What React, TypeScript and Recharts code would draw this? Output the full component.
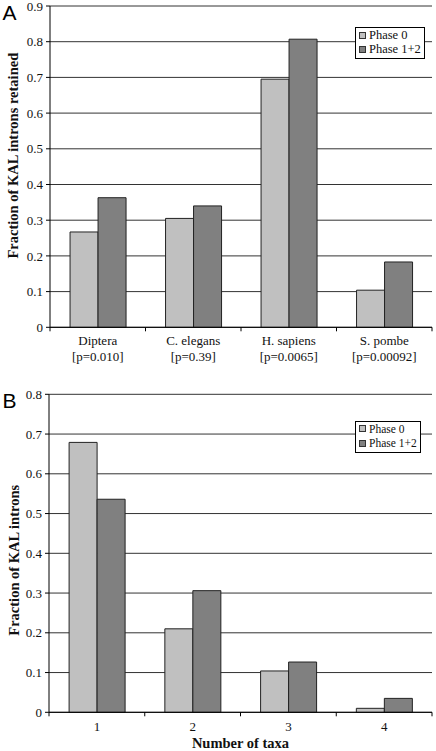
import React from 'react';
import { BarChart, Bar, XAxis, YAxis, CartesianGrid, Legend, Label } from 'recharts';

const categoriesA = ['Diptera', 'C. elegans', 'H. sapiens', 'S. pombe'];
const pValuesA = ['[p=0.010]', '[p=0.39]', '[p=0.0065]', '[p=0.00092]'];
const phase0A = [0.267, 0.305, 0.695, 0.104];
const phase12A = [0.363, 0.34, 0.807, 0.183];
const yTicksA = [0, 0.1, 0.2, 0.3, 0.4, 0.5, 0.6, 0.7, 0.8, 0.9];

const taxaB = ['1', '2', '3', '4'];
const phase0B = [0.679, 0.21, 0.104, 0.01];
const phase12B = [0.536, 0.306, 0.1265, 0.035];
const yTicksB = [0, 0.1, 0.2, 0.3, 0.4, 0.5, 0.6, 0.7, 0.8];

const seriesNames = ['Phase 0', 'Phase 1+2'];
const seriesColors = ['#c0c0c0', '#808080'];

const dataA = categoriesA.map((c, i) => ({ name: c, p0: phase0A[i], p12: phase12A[i] }));
const dataB = taxaB.map((c, i) => ({ name: c, p0: phase0B[i], p12: phase12B[i] }));

const SERIF = '"Liberation Serif", "Times New Roman", serif';
const W = 436;
const H_A = 375;
const H_B = 376;
const M_RIGHT = 4;
const YW_A = 50;
const YW_B = 49;
const BAND_A = (W - YW_A - M_RIGHT) / 4;
const BAND_B = (W - YW_B - M_RIGHT) / 4;

const fmt = (v: number) => (v === 0 ? '0' : String(v));

const LegendBox = (props: any) => {
  const payload = props.payload || [];
  return (
    <div
      style={{
        border: '1px solid #000',
        background: '#fff',
        padding: '0px 3px 1px 3px',
        fontFamily: SERIF,
        fontSize: props.fs,
        lineHeight: '14.4px',
        color: '#111',
        whiteSpace: 'nowrap',
        boxSizing: 'border-box',
      }}
    >
      {payload.map((p: any, i: number) => (
        <div key={i} style={{ display: 'flex', alignItems: 'center' }}>
          <span
            style={{
              display: 'inline-block',
              width: 5,
              height: 5,
              border: '1px solid #333',
              background: p.color,
              marginRight: 3,
            }}
          />
          <span>{p.value}</span>
        </div>
      ))}
    </div>
  );
};

const makeXTick = (band: number, second: string[] | null, firstOffset: number) => (props: any) => {
  const { x, y, payload, index } = props;
  return (
    <g>
      <line x1={x - band / 2} x2={x - band / 2} y1={y} y2={y + 4} stroke="#000" />
      {index === 3 && <line x1={x + band / 2} x2={x + band / 2} y1={y} y2={y + 4} stroke="#000" />}
      <text x={x} y={y + firstOffset} textAnchor="middle" fontFamily={SERIF} fontSize={13} fill="#111">
        {payload.value}
      </text>
      {second && (
        <text x={x} y={y + firstOffset + 16} textAnchor="middle" fontFamily={SERIF} fontSize={13} fill="#111">
          {second[index]}
        </text>
      )}
    </g>
  );
};

const yLabel = (text: string, bx: number, dyCenter: number) => (props: any) => {
  const vb = props.viewBox || {};
  const cy = vb.y + vb.height / 2 + dyCenter;
  return (
    <text
      x={bx}
      y={cy}
      transform={`rotate(-90, ${bx}, ${cy})`}
      textAnchor="middle"
      fontFamily={SERIF}
      fontWeight="bold"
      fontSize={14.5}
      fill="#111"
    >
      {text}
    </text>
  );
};

const xLabelB = (props: any) => {
  const vb = props.viewBox || {};
  return (
    <text
      x={vb.x + vb.width / 2}
      y={vb.y + 35.7}
      textAnchor="middle"
      fontFamily={SERIF}
      fontWeight="bold"
      fontSize={14.5}
      fill="#111"
    >
      Number of taxa
    </text>
  );
};

export default function App() {
  return (
    <div style={{ position: 'absolute', left: 0, top: 0, width: W, height: 751, background: '#fff' }}>
      <div style={{ position: 'absolute', left: 0, top: 0 }}>
        <BarChart
          width={W}
          height={H_A}
          data={dataA}
          margin={{ top: 6, right: M_RIGHT, bottom: 7.7, left: 0 }}
          barGap={0}
          barCategoryGap="21%"
        >
          <CartesianGrid vertical={false} stroke="#333" />
          <XAxis
            dataKey="name"
            height={40}
            tickSize={0}
            tickMargin={0}
            tickLine={false}
            axisLine={{ stroke: '#000' }}
            tick={makeXTick(BAND_A, pValuesA, 18)}
            interval={0}
          />
          <YAxis
            width={YW_A}
            domain={[0, 0.9]}
            ticks={yTicksA}
            tickFormatter={fmt}
            tickSize={4}
            tickMargin={3}
            axisLine={{ stroke: '#000' }}
            tickLine={{ stroke: '#000' }}
            tick={{ fontFamily: SERIF, fontSize: 13, fill: '#111' }}
            interval={0}
          >
            <Label content={yLabel('Fraction of KAL introns retained', 18.5, -11)} />
          </YAxis>
          <YAxis
            yAxisId="right"
            orientation="right"
            width={0}
            domain={[0, 0.9]}
            tick={false}
            tickLine={false}
            axisLine={{ stroke: '#000' }}
          />
          <Legend
            layout="horizontal"
            verticalAlign="middle"
            align="center"
            wrapperStyle={{ left: 355, top: 27, width: 'auto' }}
            content={(p: any) => <LegendBox {...p} fs={12.5} />}
          />
          <Bar dataKey="p0" name={seriesNames[0]} fill={seriesColors[0]} stroke="#222" strokeWidth={1} isAnimationActive={false} />
          <Bar dataKey="p12" name={seriesNames[1]} fill={seriesColors[1]} stroke="#222" strokeWidth={1} isAnimationActive={false} />
        </BarChart>
      </div>
      <div style={{ position: 'absolute', left: 0, top: H_A }}>
        <BarChart
          width={W}
          height={H_B}
          data={dataB}
          margin={{ top: 19.3, right: M_RIGHT, bottom: 0, left: 0 }}
          barGap={0}
          barCategoryGap="21%"
        >
          <CartesianGrid vertical={false} stroke="#333" />
          <XAxis
            dataKey="name"
            height={38.7}
            tickSize={0}
            tickMargin={0}
            tickLine={false}
            axisLine={{ stroke: '#000' }}
            tick={makeXTick(BAND_B, null, 18.7)}
            interval={0}
          >
            <Label content={xLabelB} />
          </XAxis>
          <YAxis
            width={YW_B}
            domain={[0, 0.8]}
            ticks={yTicksB}
            tickFormatter={fmt}
            tickSize={4}
            tickMargin={3}
            axisLine={{ stroke: '#000' }}
            tickLine={{ stroke: '#000' }}
            tick={{ fontFamily: SERIF, fontSize: 13, fill: '#111' }}
            interval={0}
          >
            <Label content={yLabel('Fraction of KAL introns', 19, 7)} />
          </YAxis>
          <YAxis
            yAxisId="right"
            orientation="right"
            width={0}
            domain={[0, 0.8]}
            tick={false}
            tickLine={false}
            axisLine={{ stroke: '#000' }}
          />
          <Legend
            layout="horizontal"
            verticalAlign="middle"
            align="center"
            wrapperStyle={{ left: 355, top: 45.7, width: 'auto' }}
            content={(p: any) => <LegendBox {...p} fs={11.5} />}
          />
          <Bar dataKey="p0" name={seriesNames[0]} fill={seriesColors[0]} stroke="#222" strokeWidth={1} isAnimationActive={false} />
          <Bar dataKey="p12" name={seriesNames[1]} fill={seriesColors[1]} stroke="#222" strokeWidth={1} isAnimationActive={false} />
        </BarChart>
      </div>
      <svg width={W} height={751} style={{ position: 'absolute', left: 0, top: 0, pointerEvents: 'none' }}>
        <text x={2.5} y={20} fontFamily='"Liberation Sans", Arial, sans-serif' fontSize={21} fill="#000">
          A
        </text>
        <text x={2.5} y={408} fontFamily='"Liberation Sans", Arial, sans-serif' fontSize={21} fill="#000">
          B
        </text>
      </svg>
    </div>
  );
}
